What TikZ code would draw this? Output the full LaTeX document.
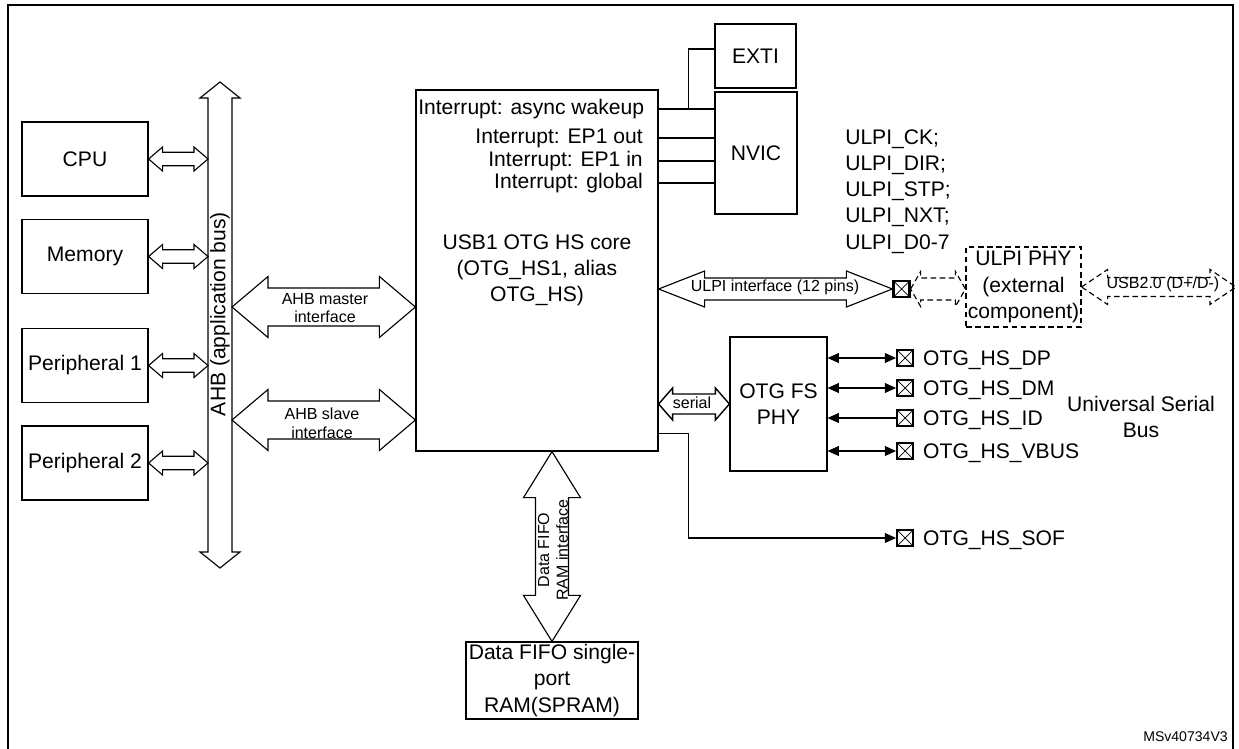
\documentclass[tikz,border=0pt]{standalone}
\usepackage{fontspec}
\setmainfont{Liberation Sans}
\usetikzlibrary{arrows.meta, positioning, calc}

\newcommand{\fbig}{\fontsize{15}{18.6}\selectfont}
\newcommand{\fsmall}{\fontsize{11.4}{13.3}\selectfont}

% wide two-headed block arrows: tips, half width, half shaft, head length
\newcommand{\hblk}[6][]{%
  \draw[blkarr,#1] (#2) -- ($(#2)+(#6,-#4)$) -- ($(#2)+(#6,-#5)$) -- ($(#3)+(-#6,-#5)$)
    -- ($(#3)+(-#6,-#4)$) -- (#3) -- ($(#3)+(-#6,#4)$) -- ($(#3)+(-#6,#5)$)
    -- ($(#2)+(#6,#5)$) -- ($(#2)+(#6,#4)$) -- cycle;}
\newcommand{\vblk}[6][]{%
  \draw[blkarr,#1] (#2) -- ($(#2)+(#4,#6)$) -- ($(#2)+(#5,#6)$) -- ($(#3)+(#5,-#6)$)
    -- ($(#3)+(#4,-#6)$) -- (#3) -- ($(#3)+(-#4,-#6)$) -- ($(#3)+(-#5,-#6)$)
    -- ($(#2)+(-#5,#6)$) -- ($(#2)+(-#4,#6)$) -- cycle;}

\begin{document}
\begin{tikzpicture}[
  x=0.025cm, y=-0.025cm,
  blk/.style={rectangle, draw, line width=0.8pt, font=\fbig, align=center, inner sep=1pt},
  dblk/.style={blk, dash pattern=on 4pt off 2.5pt},
  dsh/.style={dash pattern=on 4pt off 2.5pt},
  pad/.style={rectangle, draw, line width=1.3pt, minimum size=0.4cm, inner sep=0pt,
              path picture={\draw[line width=0.5pt]
                (path picture bounding box.north west) -- (path picture bounding box.south east)
                (path picture bounding box.north east) -- (path picture bounding box.south west);}},
  sig/.style={font=\fbig, inner sep=0pt, text depth=0pt},
  lbl/.style={font=\fsmall, align=center, inner sep=0pt},
  txt/.style={font=\fbig, align=center, inner sep=0pt},
  blkarr/.style={draw, fill=white, line width=0.8pt},
  wire/.style={line width=0.8pt},
  sarr/.style={wire, {Triangle[length=8pt,width=7pt]}-{Triangle[length=8pt,width=7pt]}},
]
  \useasboundingbox (0,0) rectangle (1239,749);

  % masters and slaves on the bus
  \node[blk, minimum width=3.15cm, minimum height=1.85cm] (cpu)  at (85,159)   {CPU};
  \node[blk, minimum width=3.15cm, minimum height=1.85cm] (mem)  at (85,256.5) {Memory};
  \node[blk, minimum width=3.15cm, minimum height=1.85cm] (per1) at (85,365.5) {Peripheral 1};
  \node[blk, minimum width=3.15cm, minimum height=1.85cm] (per2) at (85,463)   {Peripheral 2};

  \coordinate (bustop) at (220,82);
  \coordinate (busbot) at (220,568);
  \coordinate (busL) at (208,0);
  \coordinate (busR) at (232,0);
  \vblk{bustop}{busbot}{20}{12}{16}
  \node[txt, rotate=90] (ahb) at (220,314) {AHB (application bus)};
  \foreach \b in {cpu,mem,per1,per2} {\hblk{\b.east}{\b.east -| busL}{12}{6.7}{14}}

  % OTG HS core
  \node[blk, minimum width=6.05cm, minimum height=9.025cm] (core) at (537,270.5) {};
  \node[txt] (corettl) at (537,270) {USB1 OTG HS core\\(OTG\_HS1, alias\\OTG\_HS)};

  \coordinate (mstL) at (232,307);
  \coordinate (slvL) at (232,420);
  \hblk{mstL}{mstL -| core.west}{30.5}{19}{36}
  \hblk{slvL}{slvL -| core.west}{30.5}{19}{36}
  \node[lbl] (mstlbl) at (325,308) {AHB master\\interface};
  \node[lbl] (slvlbl) at (322,423) {AHB slave\\interface};

  % interrupts
  \node[blk, minimum width=2.025cm, minimum height=1.6cm] (exti) at (755.5,56) {EXTI};
  \node[blk, minimum width=2.05cm, minimum height=3.05cm] (nvic) at (756,153) {NVIC};
  \node[txt, anchor=west] (irqw) at (418,109) {Interrupt: async wakeup};
  \node[txt, anchor=east] (irqo) at (643,138) {Interrupt: EP1 out};
  \node[txt, anchor=east] (irqi) at (643,161) {Interrupt: EP1 in};
  \node[txt, anchor=east] (irqg) at (643,183) {Interrupt: global};
  \foreach \n in {irqw,irqo,irqi,irqg} {\draw[wire] (core.east |- \n) -- (nvic.west |- \n);}
  \coordinate (jn) at ($(core.east |- irqw)+(30,0)$);
  \draw[wire] (jn) |- ([yshift=0.175cm]exti.west);

  % ULPI
  \node[txt, anchor=west, align=left] (ulpisig) at (845,191.5)
    {ULPI\_CK;\\ULPI\_DIR;\\ULPI\_STP;\\ULPI\_NXT;\\ULPI\_D0-7};
  \node[pad, line width=1.6pt] (pulpi) at (901.5,289) {};
  \hblk{core.east |- pulpi}{pulpi.west}{18}{11}{46}
  \node[lbl] (ulpilbl) at (775,287) {ULPI interface (12 pins)};
  \node[dblk, minimum width=2.875cm, minimum height=2cm] (phy) at (1023.5,287)
    {ULPI PHY\\(external\\component)};
  \hblk[dsh]{pulpi.east}{phy.west |- pulpi}{17.5}{11}{10}
  \coordinate (usbR) at (1236,287);
  \hblk[dsh]{phy.east}{usbR}{17.5}{9.5}{26}
  \node[lbl] (usblbl) at (1163,284) {USB2.0 (D+/D-)};

  % full speed PHY and pins
  \node[blk, minimum width=2.425cm, minimum height=3.35cm] (fsphy) at (778.5,404) {OTG FS\\PHY};
  \hblk[line width=1pt]{core.east |- fsphy}{fsphy.west}{16}{10}{14}
  \node[lbl] (serlbl) at (692,403) {serial};

  \foreach \n/\y/\t in {pdp/358/DP, pdm/388/DM, pid/418/ID, pvb/451/VBUS, psof/538/SOF} {
    \node[pad] (\n) at (905,\y) {};
    \node[sig, right=0.225cm of \n] (l\n) {OTG\_HS\_\t};
  }
  \foreach \n in {pdp,pdm,pvb} {\draw[sarr] (fsphy.east |- \n) -- (\n.west);}
  \draw[wire, -{Triangle[length=8pt,width=7pt]}] (pid.west) -- (fsphy.east |- pid);
  \coordinate (sofout) at ([yshift=0.45cm]core.south east);
  \draw[wire, -{Triangle[length=8pt,width=7pt]}] (sofout) -- ++(30,0) |- (psof.west);
  \node[txt] (usb) at (1141,417) {Universal Serial\\Bus};

  % FIFO RAM
  \node[blk, minimum width=4.3cm, minimum height=1.925cm] (spram) at (552,680.5)
    {Data FIFO single-\\port\\RAM(SPRAM)};
  \vblk{core.south -| spram.north}{spram.north}{28.5}{16.5}{46}
  \node[lbl, rotate=90] (fifolbl) at (553,550) {Data FIFO\\RAM interface};

  \node[font=\fontsize{10}{12}\selectfont, anchor=east, inner sep=0pt] (ref) at (1228,737) {MSv40734V3};

  % frame
  \draw[line width=2pt] (8,749) -- (8,5) -- (1233,5) -- (1233,749);
\end{tikzpicture}
\end{document}
